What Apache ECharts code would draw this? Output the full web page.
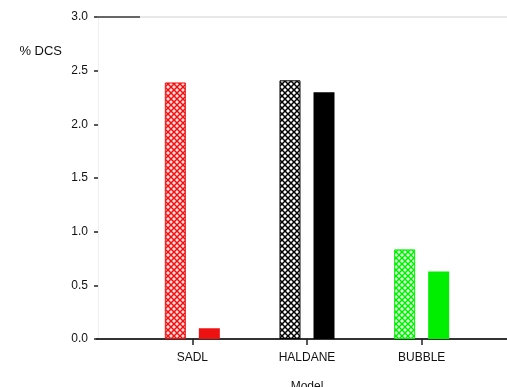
<!DOCTYPE html>
<html>
<head>
<meta charset="utf-8">
<script src="https://cdn.jsdelivr.net/npm/echarts@6/dist/echarts.min.js"></script>
<style>
html,body{margin:0;padding:0;background:#fff;}
#chart{width:507px;height:387px;}
</style>
</head>
<body>
<div id="chart"></div>
<script>
var categories = ['SADL', 'HALDANE', 'BUBBLE'];
var hatchedValues = [2.39, 2.41, 0.835];
var solidValues = [0.10, 2.30, 0.63];
var yTicks = [0, 0.5, 1.0, 1.5, 2.0, 2.5, 3.0];
var barColors = ['#ee1111', '#000000', '#00ee00'];
var hatchBg = ['#ffdede', '#ffffff', '#e0ffe0'];

function makeHatch(color, bg) {
  var s = 6;
  var c = document.createElement('canvas');
  c.width = s; c.height = s;
  var g = c.getContext('2d');
  g.fillStyle = bg;
  g.fillRect(0, 0, s, s);
  g.strokeStyle = color;
  g.lineWidth = 1.5;
  g.beginPath();
  g.moveTo(0, 0); g.lineTo(s, s);
  g.moveTo(s, 0); g.lineTo(0, s);
  g.stroke();
  return c;
}

var hatchedData = hatchedValues.map(function (v, i) {
  return {
    value: v,
    itemStyle: {
      color: { image: makeHatch(barColors[i], hatchBg[i]), repeat: 'repeat' },
      borderColor: barColors[i],
      borderWidth: 1
    }
  };
});
var solidData = solidValues.map(function (v, i) {
  return { value: v, itemStyle: { color: barColors[i] } };
});

var font = 'Liberation Sans, Arial, sans-serif';
var chart = echarts.init(document.getElementById('chart'), null, { renderer: 'canvas' });
chart.setOption({
  animation: false,
  backgroundColor: '#ffffff',
  grid: [
    { left: 135, right: 28, top: 17, bottom: 48, containLabel: false, outerBoundsMode: 'none' },
    { left: 97, right: 0, top: 17, bottom: 48, containLabel: false, outerBoundsMode: 'none' }
  ],
  xAxis: [
    {
      type: 'category', gridIndex: 0, data: categories,
      axisLine: { show: false },
      axisTick: { show: true, alignWithLabel: true, length: 6, lineStyle: { color: '#222', width: 1.5 } },
      axisLabel: { color: '#111', fontSize: 12, fontFamily: font, margin: 13 },
      name: 'Model', nameLocation: 'middle', nameGap: 42,
      nameTextStyle: { color: '#111', fontSize: 12, fontFamily: font }
    },
    {
      type: 'category', gridIndex: 1, data: [''],
      axisLine: { show: true, lineStyle: { color: '#333', width: 2 } },
      axisTick: { show: false }, axisLabel: { show: false }
    },
    {
      type: 'category', gridIndex: 1, data: [''], position: 'top',
      axisLine: { show: true, lineStyle: { color: '#e8e8e8', width: 2 } },
      axisTick: { show: false }, axisLabel: { show: false }
    }
  ],
  yAxis: [
    {
      type: 'value', gridIndex: 0, min: 0, max: 3, interval: 0.5, offset: 37,
      axisLine: { show: true, lineStyle: { color: '#eeeeee', width: 1 } },
      axisTick: { show: true, length: 4, lineStyle: { color: '#222', width: 1.5 } },
      axisLabel: { color: '#111', fontSize: 12, fontFamily: font, margin: 10,
        formatter: function (v) { return v.toFixed(1); } },
      splitLine: { show: false },
      name: '% DCS', nameLocation: 'end', nameGap: -41,
      nameTextStyle: { color: '#111', fontSize: 13, fontFamily: font, align: 'right', padding: [0, 36, 0, 0] }
    },
    { type: 'value', gridIndex: 1, show: false }
  ],
  graphic: [
    { type: 'line', shape: { x1: 97, y1: 17, x2: 140, y2: 17 }, style: { stroke: '#666', lineWidth: 2 }, z: 10 }
  ],
  series: [
    { type: 'bar', xAxisIndex: 0, yAxisIndex: 0, data: hatchedData, barWidth: 21, barGap: '62%' },
    { type: 'bar', xAxisIndex: 0, yAxisIndex: 0, data: solidData, barWidth: 21, barGap: '62%' }
  ]
});
</script>
</body>
</html>
